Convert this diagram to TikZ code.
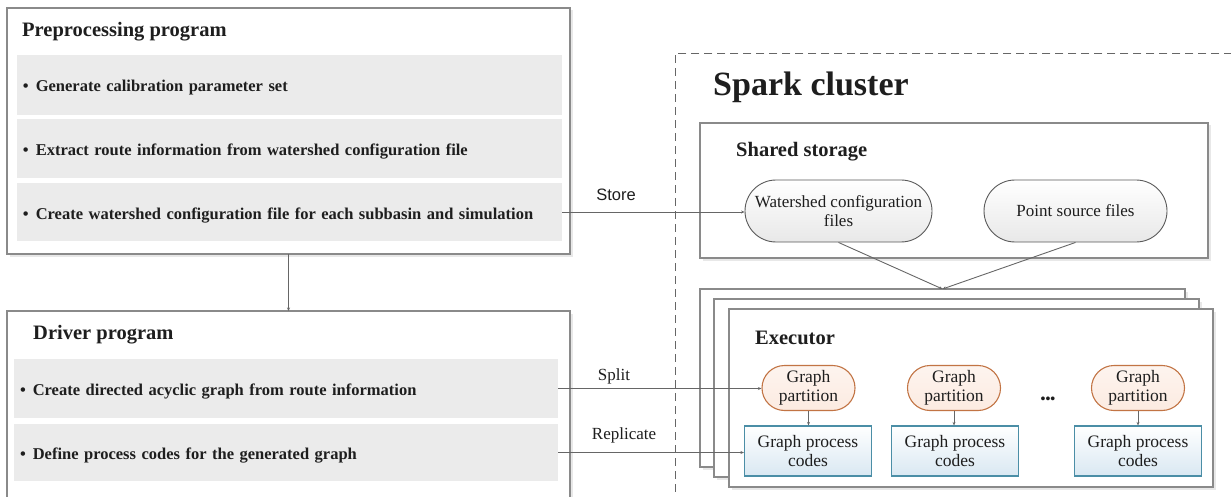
\documentclass[tikz,border=0pt]{standalone}
\usepackage{fontspec}
\setmainfont{Liberation Serif}
\newfontfamily\storefont{Liberation Sans}
\usetikzlibrary{arrows.meta,shadows,shapes.misc}

\definecolor{linegray}{HTML}{666666}
\definecolor{boxgray}{HTML}{8A8A8A}
\definecolor{rowgray}{HTML}{EBEBEB}
\definecolor{txt}{HTML}{1E1E1E}
\definecolor{peachfill}{HTML}{FCEBE1}
\definecolor{peachline}{HTML}{C27444}
\definecolor{bluefill}{HTML}{D9E8F2}
\definecolor{blueline}{HTML}{4B8EA6}
\definecolor{pillgray}{HTML}{E8E8E8}
\definecolor{pillline}{HTML}{5A5A5A}

\newcommand{\itembullet}{\textbullet\hspace{7pt}}

\begin{document}
\begin{tikzpicture}[x=1pt,y=-1pt,
  panel/.style={draw=boxgray, line width=1.2pt, fill=white, inner sep=0pt, outer sep=0pt, anchor=north west,
    drop shadow={shadow xshift=2.5pt, shadow yshift=-2.5pt, fill=black!9, opacity=1}},
  rowbox/.style={fill=rowgray, inner xsep=6pt, inner ysep=0pt, outer sep=0pt, anchor=north west, align=left,
    text height=16pt, text depth=2pt,
    text=txt, font=\fontsize{16.5}{20}\selectfont\bfseries},
  title/.style={anchor=west, inner sep=0pt, text=txt, font=\fontsize{20.5}{24}\selectfont\bfseries},
  stpill/.style={rounded rectangle, draw=pillline, line width=0.9pt, top color=white, bottom color=pillgray,
    minimum width=#1, minimum height=62pt, inner sep=0pt, align=center, text=txt, font=\fontsize{17}{18.5}\selectfont},
  gppill/.style={rounded rectangle, draw=peachline, line width=1.1pt, top color=peachfill!55!white, bottom color=peachfill,
    minimum width=93pt, minimum height=45pt, inner sep=0pt, align=center, text=txt, font=\fontsize{17.5}{19}\selectfont},
  gpcbox/.style={draw=blueline, line width=1.2pt, top color=white, bottom color=bluefill,
    minimum width=127pt, minimum height=50pt, inner sep=0pt, align=center, text=txt, font=\fontsize{17.5}{19}\selectfont},
  conn/.style={draw=linegray, line width=0.9pt, -{Stealth[length=3.5pt,width=3pt]}},
  lbl/.style={inner sep=0pt, text=txt, font=\fontsize{17}{20}\selectfont}
]
\useasboundingbox (0,0) rectangle (1231,497);
\clip (0,0) rectangle (1231,497);

% Preprocessing program
\node[panel, minimum width=563pt, minimum height=246pt] (pre) at (7,8) {};
\node[title] (pretitle) at (22,32) {Preprocessing program};
\node[rowbox, minimum width=545pt, minimum height=60pt, text width=533pt] (prow1) at (17,55) {\itembullet Generate calibration parameter set};
\node[rowbox, minimum width=545pt, minimum height=59pt, text width=533pt] (prow2) at (17,119) {\itembullet Extract route information from watershed configuration file};
\node[rowbox, minimum width=545pt, minimum height=58pt, text width=533pt] (prow3) at (17,183) {\itembullet Create watershed configuration file for each subbasin and simulation};

% Driver program
\node[panel, minimum width=563pt, minimum height=230pt] (drv) at (7,311) {};
\node[title] (drvtitle) at (33,334.5) {Driver program};
\node[rowbox, minimum width=544pt, minimum height=59pt, text width=532pt] (drow1) at (14,359) {\itembullet Create directed acyclic graph from route information};
\node[rowbox, minimum width=544pt, minimum height=57pt, text width=532pt] (drow2) at (14,424) {\itembullet Define process codes for the generated graph};

% Spark cluster
\node[draw=linegray, line width=0.9pt, dash pattern=on 8pt off 5pt, inner sep=0pt, anchor=north west,
      minimum width=620pt, minimum height=500pt] (spark) at (675,53) {};
\node[anchor=west, inner sep=0pt, text=txt, font=\fontsize{34}{40}\selectfont\bfseries] (sparktitle) at (713,87) {Spark cluster};

% Shared storage
\node[panel, minimum width=508pt, minimum height=135pt] (store) at (700,123) {};
\node[title] (storetitle) at (736,152) {Shared storage};
\node[stpill=187pt] (wsf) at (838.5,211) {Watershed configuration\\files};
\node[stpill=183pt] (psf) at (1075.5,211) {Point source files};

% Executor stack
\node[panel, minimum width=485pt, minimum height=178pt] (back) at (700,289) {};
\node[panel, minimum width=485pt, minimum height=178pt] (mid) at (714,299) {};
\node[panel, minimum width=484pt, minimum height=178pt] (front) at (729,309) {};
\node[title] (exectitle) at (755,338) {Executor};

\node[gppill] (gp1) at (808.5,388) {Graph\\partition};
\node[gppill] (gp2) at (954,388) {Graph\\partition};
\node[gppill] (gp3) at (1138,388) {Graph\\partition};
\node[gpcbox] (gpc1) at (808,451) {Graph process\\codes};
\node[gpcbox] (gpc2) at (955,451) {Graph process\\codes};
\node[gpcbox] (gpc3) at (1138,451) {Graph process\\codes};
\node[inner sep=0pt, text=txt, font=\fontsize{14}{16}\selectfont\bfseries] (dots) at (1048,400) {•••};

% Connectors
\draw[conn] (pre.south) -- (drv.north);
\draw[conn] (prow3.east) -- (prow3.east -| wsf.west);
\node[lbl, font=\storefont\fontsize{16.5}{20}\selectfont] (storelbl) at (616,195) {Store};
\draw[conn] (drow1.east) -- (drow1.east -| gp1.west);
\node[lbl] (splitlbl) at (614,376) {Split};
\draw[conn] (drow2.east) -- (drow2.east -| gpc1.west);
\node[lbl] (replbl) at (624,435) {Replicate};
\draw[conn] (gp1.south) -- (gp1.south |- gpc1.north);
\draw[conn] (gp2.south) -- (gp2.south |- gpc2.north);
\draw[conn] (gp3.south) -- (gp3.south |- gpc3.north);
\draw[conn] (wsf.south) -- (back.north);
\draw[conn] (psf.south) -- (back.north);
\end{tikzpicture}
\end{document}
